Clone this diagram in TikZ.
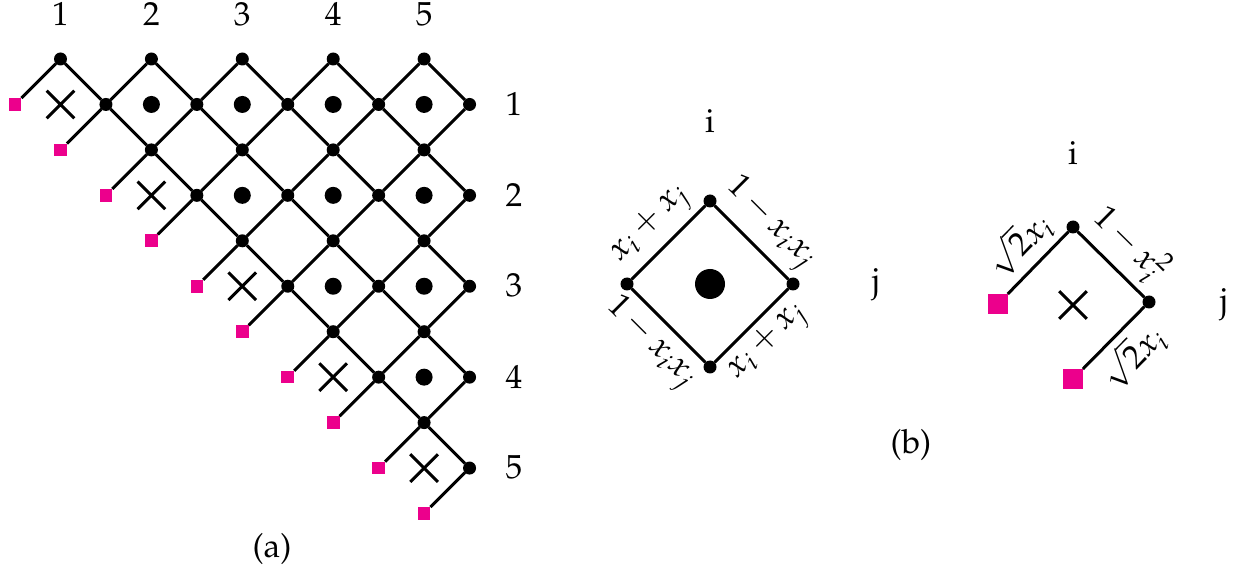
\documentclass[tikz,border=0pt]{standalone}
\usepackage[T1]{fontenc}
\usepackage{mathpazo}
\usetikzlibrary{shapes.misc}
\definecolor{bdry}{RGB}{236,0,140}
\tikzset{
  vertex/.style={circle,fill=black,inner sep=0pt,outer sep=0pt,minimum size=3.9pt},
  bigdot/.style={circle,fill=black,inner sep=0pt,outer sep=0pt,minimum size=#1},
  bsquare/.style={rectangle,fill=bdry,inner sep=0pt,outer sep=0pt,minimum size=#1},
  crossmark/.style={cross out,draw=black,line width=0.9pt,inner sep=0pt,minimum size=7.4pt},
  weight/.style={midway,sloped,inner sep=1.8pt}
}
\begin{document}
\begin{tikzpicture}[line width=0.9pt,x=0.3pt,y=-0.3pt]
\def\h{45.45}
\useasboundingbox (0,0) rectangle (1233,571);
% lattice
\foreach \r in {1,...,5} {
  \foreach \c in {\r,...,5} {
    \node[vertex] (top\r\c) at ({60.5+2*\h*(\c-1)},{59+2*\h*(\r-1)}) {};
    \node[vertex] (east\r\c) at ({60.5+2*\h*(\c-1)+\h},{59+2*\h*(\r-1)+\h}) {};
    \ifnum\r=\c
      \node[bsquare=3.8pt] (west\r) at ({60.5+2*\h*(\c-1)-\h},{59+2*\h*(\r-1)+\h}) {};
      \node[bsquare=3.8pt] (south\r) at ({60.5+2*\h*(\c-1)},{59+2*\h*\r}) {};
      \node[crossmark] (cross\r) at ({60.5+2*\h*(\c-1)},{59+2*\h*(\r-1)+\h}) {};
    \else
      \node[bigdot=5.1pt] (mid\r\c) at ({60.5+2*\h*(\c-1)},{59+2*\h*(\r-1)+\h}) {};
    \fi
  }
}
\foreach \r in {1,...,5} {
  \foreach \c in {\r,...,5} {
    \draw (top\r\c) -- (east\r\c);
    \ifnum\r=\c
      \draw (west\r) -- (top\r\c);
      \draw (east\r\c) -- (south\r);
    \else
      \pgfmathtruncatemacro{\p}{\c-1}
      \pgfmathtruncatemacro{\q}{\r+1}
      \draw (east\r\p) -- (top\r\c);
      \draw (east\r\p) -- (top\q\c);
      \draw (top\q\c) -- (east\r\c);
    \fi
  }
}
% indices
\foreach \n in {1,...,5} {
  \node (col\n) at ({60.5+2*\h*(\n-1)},14) {\n};
  \node (row\n) at (514,{104+2*\h*(\n-1)}) {\n};
}
\node (capa) at (272,549) {(a)};
% bulk weight
\node[vertex] (bt) at (710,201) {};
\node[vertex] (bl) at (627,284) {};
\node[vertex] (br) at (793,284) {};
\node[vertex] (bb) at (710,367) {};
\node[bigdot=9pt] (bm) at (710,284) {};
\node (bi) at (710,121) {i};
\node (bj) at (876,285) {j};
\draw (bl) -- node[weight,above] {$x_i+x_j$} (bt);
\draw (bt) -- node[weight,above] {$1-x_ix_j$} (br);
\draw (bl) -- node[weight,below] {$1-x_ix_j$} (bb);
\draw (bb) -- node[weight,below] {$x_i+x_j$} (br);
\node (capb) at (911,445) {(b)};
% boundary weight
\node[vertex] (ct) at (1073,227) {};
\node[vertex] (cr) at (1149,302) {};
\node[bsquare=6pt] (cl) at (998,304) {};
\node[bsquare=6pt] (cb) at (1073,379) {};
\node[crossmark] (cm) at (1073,305) {};
\node (ci) at (1073,153) {i};
\node (cj) at (1224,305) {j};
\draw (cl) -- node[weight,above] {$\sqrt{2}x_i$} (ct);
\draw (ct) -- node[weight,above] {$1-x_i^2$} (cr);
\draw (cb) -- node[weight,below] {$\sqrt{2}x_i$} (cr);
\end{tikzpicture}
\end{document}
